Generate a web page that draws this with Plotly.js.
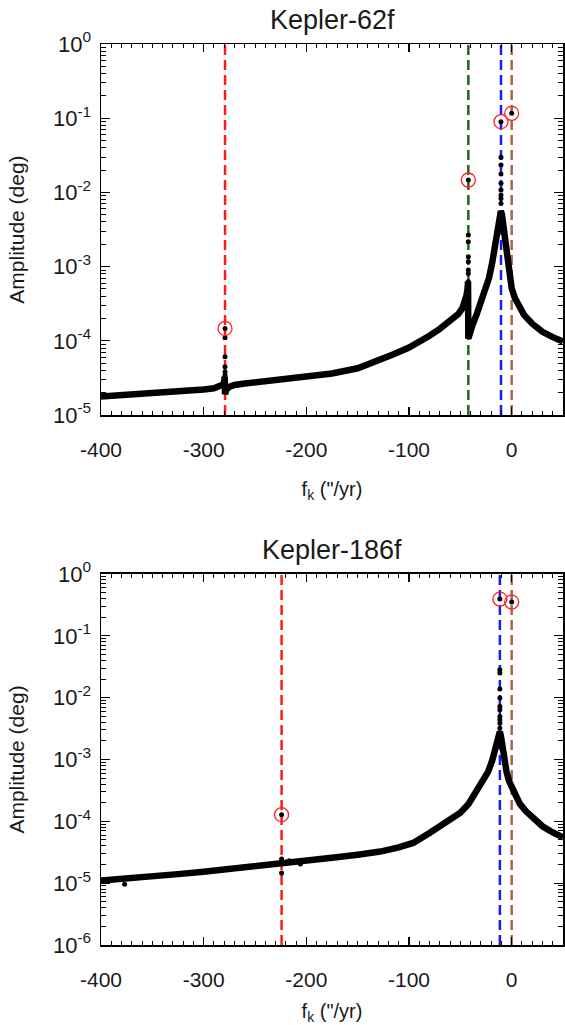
<!DOCTYPE html>
<html><head><meta charset="utf-8">
<script src="https://cdn.plot.ly/plotly-3.0.1.min.js"></script>
<style>html,body{margin:0;padding:0;background:#fff}#chart{width:565px;height:1025px}</style>
</head><body><div id="chart"></div>
<script>
// ---------- Kepler-62f (top panel) ----------
const k62CurveX = [-400, -375, -350, -325, -300, -290, -284, -281, -280, -279.5, -279.2, -278, -275, -270, -260, -250, -225, -200, -175, -150, -130, -115, -100, -90, -80, -70, -60, -52, -48, -45.5, -44, -43, -42.5, -42.2, -41, -38, -34, -30, -26, -22, -19, -17, -15, -13, -11.5, -10.5, -9.5, -8, -6, -4, -2, 0, 3, 7, 12, 20, 30, 40, 50];
const k62CurveY = [1.78e-5, 1.86e-5, 1.95e-5, 2.07e-5, 2.21e-5, 2.29e-5, 2.4e-5, 2.57e-5, 2.82e-5, 3.31e-5, 1.91e-5, 2.19e-5, 2.4e-5, 2.54e-5, 2.66e-5, 2.75e-5, 2.99e-5, 3.27e-5, 3.63e-5, 4.27e-5, 5.37e-5, 6.61e-5, 8.13e-5, 9.55e-5, 1.17e-4, 1.45e-4, 1.82e-4, 2.29e-4, 2.75e-4, 3.39e-4, 4.07e-4, 5.01e-4, 6.31e-4, 1.07e-4, 1.26e-4, 1.66e-4, 2.29e-4, 3.24e-4, 4.57e-4, 7.08e-4, 1.12e-3, 1.66e-3, 2.63e-3, 3.98e-3, 5.25e-3, 5.62e-3, 5.01e-3, 3.31e-3, 1.91e-3, 1.12e-3, 7.24e-4, 5.13e-4, 3.8e-4, 2.88e-4, 2.24e-4, 1.7e-4, 1.32e-4, 1.12e-4, 9.77e-5];
const k62DotsX = [-279.2, -279.2, -279.2, -279.2, -279.2, -279.2,
                  -42.2, -42.2, -42.2, -42.2, -42.2, -42.2, -42.2, -42.2, -42.2, -42.2,
                  -10.4, -10.4, -10.4, -10.4, -10.4, -10.4, -10.4, -10.4, -10.4, 0];
const k62DotsY = [1.47e-4, 1.10e-4, 6.1e-5, 4.48e-5, 3.84e-5, 3.46e-5,
                  1.47e-2, 2.67e-3, 2.17e-3, 1.36e-3, 1.16e-3, 9.0e-4, 8.1e-4, 6.3e-4, 5.4e-4, 4.4e-4,
                  8.97e-2, 2.97e-2, 2.34e-2, 1.77e-2, 1.33e-2, 1.08e-2, 9.2e-3, 8.3e-3, 7.1e-3, 0.1164];
const k62CircX = [-279.2, -42.2, -10.4, 0];
const k62CircY = [1.47e-4, 1.47e-2, 8.97e-2, 0.1164];
const k62LineX = [-279.2, -42.2, -10.4, 0];

// ---------- Kepler-186f (bottom panel) ----------
const k186CurveX = [-400, -375, -350, -325, -300, -275, -250, -225, -200, -175, -150, -128, -110, -96, -80, -70, -60, -50, -42, -34, -28, -23, -19, -16, -14, -12.5, -11.5, -10.5, -9, -7, -5, -2.5, 0, 4, 8, 14, 21, 30, 40, 50];
const k186CurveY = [1.1e-5, 1.17e-5, 1.27e-5, 1.4e-5, 1.53e-5, 1.68e-5, 1.86e-5, 2.07e-5, 2.29e-5, 2.57e-5, 2.88e-5, 3.24e-5, 3.8e-5, 4.47e-5, 6.46e-5, 8.13e-5, 1.05e-4, 1.38e-4, 1.91e-4, 3.02e-4, 4.37e-4, 6.31e-4, 9.55e-4, 1.41e-3, 1.91e-3, 2.51e-3, 2.82e-3, 2.4e-3, 1.58e-3, 9.55e-4, 6.31e-4, 4.47e-4, 3.55e-4, 2.51e-4, 1.91e-4, 1.45e-4, 1.1e-4, 8.32e-5, 6.61e-5, 5.5e-5];
const k186DotsX = [-224.1, -224.1, -224.1, -377, -263, -216.6, -205.8, -172,
                   -11.5, -11.5, -11.5, -11.5, -11.5, -11.5, -11.5, -11.5, -11.5, -11.5, -11.5, 0];
const k186DotsY = [1.28e-4, 2.45e-5, 1.46e-5, 9.6e-6, 1.75e-5, 2.3e-5, 2.05e-5, 2.6e-5,
                   0.393, 2.83e-2, 2.5e-2, 1.38e-2, 9.9e-3, 7.2e-3, 6.4e-3, 4.97e-3, 4.4e-3, 3.9e-3, 3.2e-3, 0.351];
const k186CircX = [-224.1, -11.5, 0];
const k186CircY = [1.28e-4, 0.393, 0.351];
const k186LineX = [-224.1, -11.5, 0];

// ---------- tick labels ----------
const xTickVals = [-400, -300, -200, -100, 0];
const xTickText = ['-400', '-300', '-200', '-100', '0'];
const yTickVals62 = [1e-5, 1e-4, 1e-3, 1e-2, 1e-1, 1];
const yTickText62 = ['10<sup>-5</sup>', '10<sup>-4</sup>', '10<sup>-3</sup>', '10<sup>-2</sup>', '10<sup>-1</sup>', '10<sup>0</sup>'];
const yTickVals186 = [1e-6, 1e-5, 1e-4, 1e-3, 1e-2, 1e-1, 1];
const yTickText186 = ['10<sup>-6</sup>', '10<sup>-5</sup>', '10<sup>-4</sup>', '10<sup>-3</sup>', '10<sup>-2</sup>', '10<sup>-1</sup>', '10<sup>0</sup>'];

// ---------- styling ----------
const FONT = 'Liberation Sans, Arial, Helvetica, sans-serif';
const TXT = '#1a1a1a';
const colors62 = ['#ff1a1a', '#1a6b1a', '#1a1aff', '#a8664a'];
const colors186 = ['#ff1a1a', '#1a1aff', '#a8664a'];

function minorLog(lo, hi) {
  const v = [];
  for (let d = lo; d < hi; d++) for (let m = 2; m <= 9; m++) v.push(m * Math.pow(10, d));
  return v;
}

function curve(x, y, xa, ya) {
  return {x, y, xaxis: xa, yaxis: ya, mode: 'lines', line: {color: '#000', width: 6.5}, hoverinfo: 'skip', showlegend: false};
}
function dots(x, y, xa, ya) {
  return {x, y, xaxis: xa, yaxis: ya, mode: 'markers', marker: {color: '#000', size: 5}, showlegend: false};
}
function circs(x, y, xa, ya) {
  return {x, y, xaxis: xa, yaxis: ya, mode: 'markers', marker: {symbol: 'circle-open', color: '#ff2020', size: 14, line: {width: 1.3, color: '#ff2020'}}, showlegend: false};
}

const traces = [
  curve(k62CurveX, k62CurveY, 'x', 'y'),
  dots(k62DotsX, k62DotsY, 'x', 'y'),
  circs(k62CircX, k62CircY, 'x', 'y'),
  curve(k186CurveX, k186CurveY, 'x2', 'y2'),
  dots(k186DotsX, k186DotsY, 'x2', 'y2'),
  circs(k186CircX, k186CircY, 'x2', 'y2')
];

const shapes = [];
k62LineX.forEach((xv, i) => shapes.push({type: 'line', xref: 'x', yref: 'y domain', x0: xv, x1: xv, y0: 0, y1: 1,
  line: {color: colors62[i], width: 2.5, dash: '10px,5px'}, layer: 'below'}));
k186LineX.forEach((xv, i) => shapes.push({type: 'line', xref: 'x2', yref: 'y2 domain', x0: xv, x1: xv, y0: 0, y1: 1,
  line: {color: colors186[i], width: 2.5, dash: '10px,5px'}, layer: 'below'}));

function xAxis(anchor) {
  return {
    anchor, range: [-400, 50], tickmode: 'array', tickvals: xTickVals, ticktext: xTickText,
    ticks: 'inside', ticklen: 8, tickwidth: 1.2, tickcolor: '#000',
    minor: {dtick: 10, ticks: 'inside', ticklen: 4, tickwidth: 1, tickcolor: '#000', showgrid: false},
    showline: true, linecolor: '#000', linewidth: 1.5, mirror: 'ticks',
    showgrid: false, zeroline: false, ticklabelstandoff: 15,
    tickfont: {family: FONT, size: 21, color: TXT},
    title: {text: 'f<sub>k</sub> ("/yr)', font: {family: FONT, size: 20, color: TXT}, standoff: 22}
  };
}
function yAxis(anchor, domain, range, vals, text, lo) {
  return {
    anchor, domain, type: 'log', range, tickmode: 'array', tickvals: vals, ticktext: text,
    ticks: 'inside', ticklen: 9, tickwidth: 1.2, tickcolor: '#000',
    minor: {tickmode: 'array', tickvals: minorLog(lo, 0), ticks: 'inside', ticklen: 5, tickwidth: 1, tickcolor: '#000', showgrid: false},
    showline: true, linecolor: '#000', linewidth: 1.5, mirror: 'ticks',
    showgrid: false, zeroline: false, ticklabelstandoff: 4,
    tickfont: {family: FONT, size: 22, color: TXT},
    title: {text: 'Amplitude (deg)', font: {family: FONT, size: 21, color: TXT}, standoff: 22}
  };
}

const layout = {
  width: 565, height: 1025,
  margin: {l: 101, r: 2, t: 44, b: 80},
  paper_bgcolor: '#fff', plot_bgcolor: '#fff',
  showlegend: false,
  xaxis: xAxis('y'),
  yaxis: yAxis('x', [0.5882, 1], [-5, 0], yTickVals62, yTickText62, -5),
  xaxis2: xAxis('y2'),
  yaxis2: yAxis('x2', [0, 0.4118], [-6, 0], yTickVals186, yTickText186, -6),
  shapes,
  annotations: [
    {text: 'Kepler-62f', xref: 'paper', yref: 'paper', x: 0.5, y: 1.0266, xanchor: 'center', yanchor: 'middle', showarrow: false, font: {family: FONT, size: 27, color: TXT}},
    {text: 'Kepler-186f', xref: 'paper', yref: 'paper', x: 0.5, y: 0.4384, xanchor: 'center', yanchor: 'middle', showarrow: false, font: {family: FONT, size: 27, color: TXT}}
  ]
};

Plotly.newPlot('chart', traces, layout, {displayModeBar: false, staticPlot: true});
</script>
</body></html>
